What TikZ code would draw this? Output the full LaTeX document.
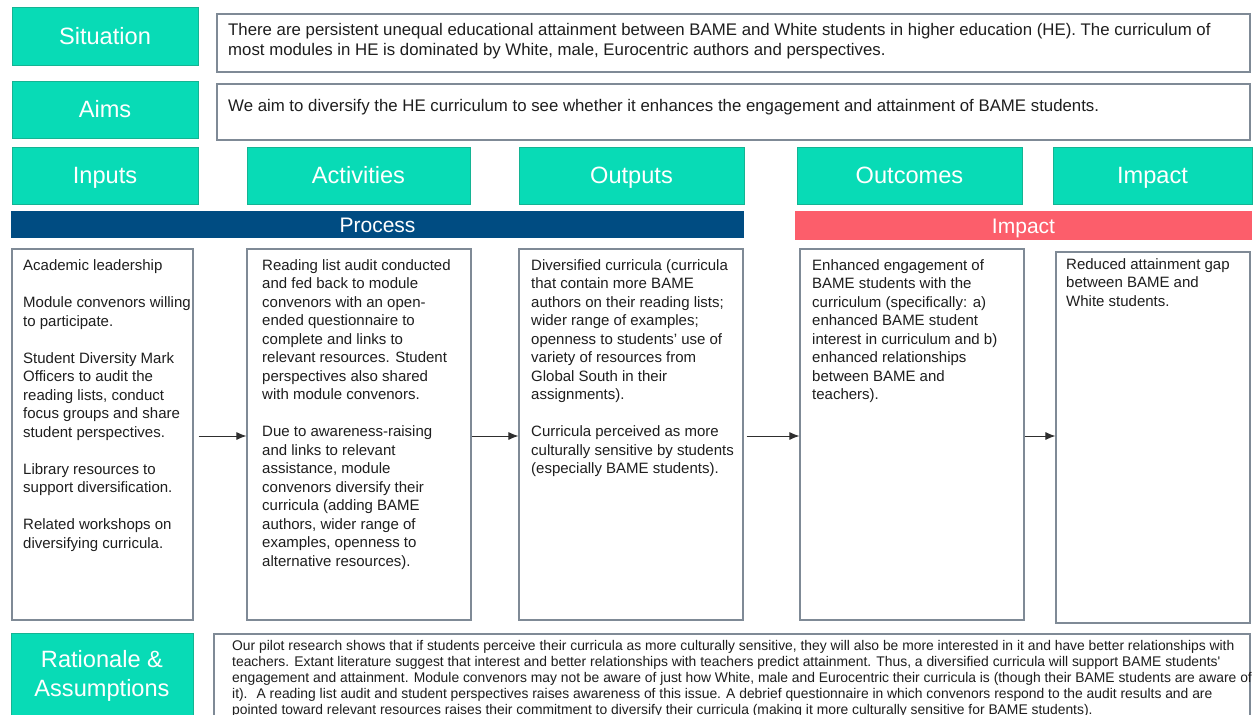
\documentclass[tikz,border=0pt]{standalone}
\usepackage{fontspec}
\setmainfont{Liberation Sans}
\newfontfamily\condensedfont{Liberation Sans}[FakeStretch=0.99]
\usetikzlibrary{arrows.meta}

\definecolor{hdrfill}{HTML}{08DBB6}
\definecolor{hdredge}{HTML}{14B493}
\definecolor{boxedge}{HTML}{7F8A96}
\definecolor{processblue}{HTML}{004C82}
\definecolor{impactred}{HTML}{FC5E6B}
\definecolor{ink}{HTML}{1E1E1E}
\definecolor{arrowgray}{HTML}{2E2E2E}

\begin{document}
\begin{tikzpicture}[x=1pt,y=-1pt,
  hdr/.style={draw=hdredge, fill=hdrfill, line width=0.9pt, text=white,
    font=\fontsize{23.6}{29}\selectfont, inner sep=0pt, align=center},
  hdrline/.style={hdr, text height=16.9pt, text depth=0pt},
  bar/.style={inner sep=0pt, text=white, font=\fontsize{21}{25}\selectfont,
    text height=15pt, text depth=0pt},
  txtbox/.style={draw=boxedge, line width=1.2pt, fill=white, inner sep=0pt},
  bigtext/.style={anchor=north west, inner sep=0pt, align=left, text=ink,
    font=\fontsize{16.8}{20}\selectfont},
  bodytext/.style={anchor=north west, inner sep=0pt, align=left, text=ink,
    font=\fontsize{15}{18.5}\selectfont},
  smalltext/.style={anchor=north west, inner sep=0pt, align=left, text=ink,
    font=\condensedfont\fontsize{14}{16}\selectfont},
  flow/.style={draw=arrowgray, line width=0.9pt, -{Latex[length=10pt,width=8pt]}}
]
\useasboundingbox (0,0) rectangle (1254,715);
\clip (0,0) rectangle (1254,715);

% ---- Situation and aims rows ----
\node[hdrline, minimum width=186pt, minimum height=58pt] (sit) at (105,36) {Situation};
\node[txtbox, minimum width=1033pt, minimum height=58pt] (sitB) at (733.5,43) {};
\node[bigtext] (sitT) at (228,23.5)
  {There are persistent unequal educational attainment between BAME and White students in higher education (HE). The curriculum of\\
   most modules in HE is dominated by White, male, Eurocentric authors and perspectives.};

\node[hdrline, minimum width=186pt, minimum height=57pt] (aims) at (105,109.5) {Aims};
\node[txtbox, minimum width=1033pt, minimum height=56pt] (aimsB) at (733.5,112) {};
\node[bigtext] (aimsT) at (228,99)
  {We aim to diversify the HE curriculum to see whether it enhances the engagement and attainment of BAME students.};

% ---- Column headings ----
\node[hdrline, minimum width=186pt, minimum height=57pt] (inH) at (105,175.5) {Inputs};
\node[hdrline, minimum width=223pt, minimum height=57pt] (acH) at (358.5,175.5) {Activities};
\node[hdrline, minimum width=225pt, minimum height=57pt] (ouH) at (631.5,175.5) {Outputs};
\node[hdrline, minimum width=225pt, minimum height=57pt] (ocH) at (909.5,175.5) {Outcomes};
\node[hdrline, minimum width=199pt, minimum height=57pt] (imH) at (1152.5,175.5) {Impact};

% ---- Phase bars ----
\node[bar, fill=processblue, minimum width=733pt, minimum height=27pt] (procbar) at (377.5,224.5) {Process};
\node[bar, fill=impactred, minimum width=457pt, minimum height=29pt] (impbar) at (1023.5,225.5) {Impact};

% ---- Column contents ----
\node[txtbox, minimum width=181pt, minimum height=371pt] (inB) at (102.5,434.5) {};
\node[bodytext] (inT) at (23,259.5)
  {Academic leadership\\[18.5pt]
   Module convenors willing\\
   to participate.\\[18.5pt]
   Student Diversity Mark\\
   Officers to audit the\\
   reading lists, conduct\\
   focus groups and share\\
   student perspectives.\\[18.5pt]
   Library resources to\\
   support diversification.\\[18.5pt]
   Related workshops on\\
   diversifying curricula.};

\node[txtbox, minimum width=224pt, minimum height=371pt] (acB) at (359,434.5) {};
\node[bodytext] (acT) at (262,259)
  {Reading list audit conducted\\
   and fed back to module\\
   convenors with an open-\\
   ended questionnaire to\\
   complete and links to\\
   relevant resources. Student\\
   perspectives also shared\\
   with module convenors.\\[18.5pt]
   Due to awareness-raising\\
   and links to relevant\\
   assistance, module\\
   convenors diversify their\\
   curricula (adding BAME\\
   authors, wider range of\\
   examples, openness to\\
   alternative resources).};

\node[txtbox, minimum width=224pt, minimum height=371pt] (ouB) at (631,434.5) {};
\node[bodytext] (ouT) at (531,259)
  {Diversified curricula (curricula\\
   that contain more BAME\\
   authors on their reading lists;\\
   wider range of examples;\\
   openness to students' use of\\
   variety of resources from\\
   Global South in their\\
   assignments).\\[18.5pt]
   Curricula perceived as more\\
   culturally sensitive by students\\
   (especially BAME students).};

\node[txtbox, minimum width=224pt, minimum height=371pt] (ocB) at (912,434.5) {};
\node[bodytext] (ocT) at (812,259)
  {Enhanced engagement of\\
   BAME students with the\\
   curriculum (specifically: a)\\
   enhanced BAME student\\
   interest in curriculum and b)\\
   enhanced relationships\\
   between BAME and\\
   teachers).};

\node[txtbox, minimum width=194pt, minimum height=371pt] (imB) at (1153,437.5) {};
\node[bodytext] (imT) at (1066,258)
  {Reduced attainment gap\\
   between BAME and\\
   White students.};

% ---- Flow arrows ----
\coordinate (flowrow) at (0,436);
\draw[flow, shorten <=5pt] (inB.east |- flowrow) -- (acB.west |- flowrow);
\draw[flow] (acB.east |- flowrow) -- (ouB.west |- flowrow);
\draw[flow, shorten <=3pt] (ouB.east |- flowrow) -- (ocB.west |- flowrow);
\draw[flow] (ocB.east |- flowrow) -- (imB.west |- flowrow);

% ---- Rationale row ----
\node[hdr, minimum width=182pt, minimum height=86pt] (rat) at (102,676) {Rationale \&\\Assumptions};
\node[txtbox, minimum width=1036pt, minimum height=90pt] (ratB) at (732,679) {};
\node[smalltext] (ratT) at (232,640)
  {Our pilot research shows that if students perceive their curricula as more culturally sensitive, they will also be more interested in it and have better relationships with\\
   teachers. Extant literature suggest that interest and better relationships with teachers predict attainment. Thus, a diversified curricula will support BAME students'\\
   engagement and attainment. Module convenors may not be aware of just how White, male and Eurocentric their curricula is (though their BAME students are aware of\\
   it). \ A reading list audit and student perspectives raises awareness of this issue. A debrief questionnaire in which convenors respond to the audit results and are\\
   pointed toward relevant resources raises their commitment to diversify their curricula (making it more culturally sensitive for BAME students).};
\end{tikzpicture}
\end{document}
